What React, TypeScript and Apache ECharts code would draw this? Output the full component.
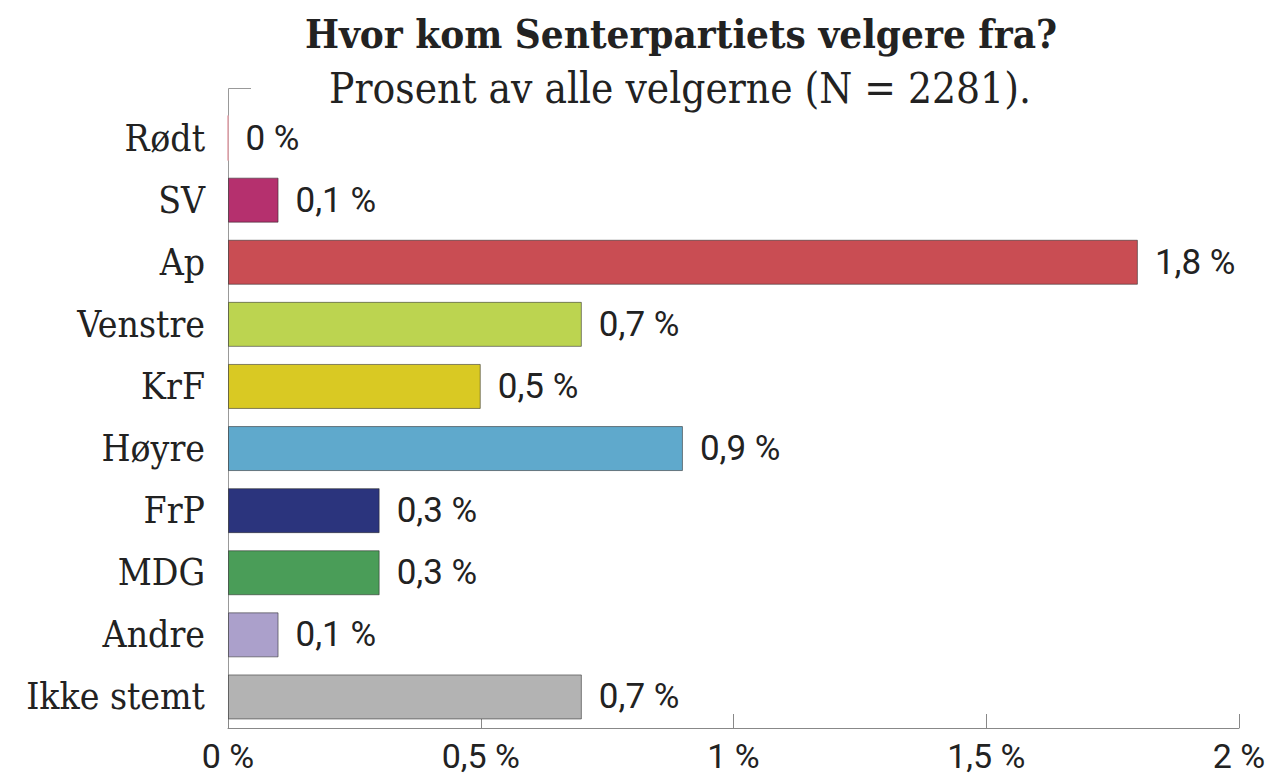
import React, { useEffect, useRef } from "react";
import * as echarts from "echarts";

const categories = ["Rødt", "SV", "Ap", "Venstre", "KrF", "Høyre", "FrP", "MDG", "Andre", "Ikke stemt"];
const values = [0, 0.1, 1.8, 0.7, 0.5, 0.9, 0.3, 0.3, 0.1, 0.7];
const colors = ["#e4a3ab", "#b5306e", "#c94d53", "#bcd450", "#d9c923", "#5fa9cc", "#2b347d", "#4a9d58", "#aba0cb", "#b3b3b3"];
const xTicks = [0, 0.5, 1, 1.5, 2];

const titleText = "Hvor kom Senterpartiets velgere fra?";
const subtitleText = "Prosent av alle velgerne (N = 2281).";

const slab = "'Roboto Slab', 'DejaVu Serif Condensed', 'DejaVu Serif', serif";
const sans = "Roboto, 'Noto Sans', sans-serif";

function fmt(v: number): string {
  if (v === 0) return "0 %";
  const s = Number.isInteger(v) ? String(v) : v.toFixed(1);
  return s.replace(".", ",") + " %";
}

export default function App() {
  const ref = useRef<HTMLDivElement>(null);
  useEffect(() => {
    if (!ref.current) return;
    const chart = echarts.init(ref.current, null, { renderer: "svg" });
    chart.setOption({
      animation: false,
      backgroundColor: "#ffffff",
      graphic: [
        {
          type: "text",
          x: 681,
          y: 33,
          style: {
            text: titleText,
            fontFamily: slab,
            fontWeight: "bold",
            fontSize: 40,
            fill: "#222222",
            textAlign: "center",
            textVerticalAlign: "middle",
          },
        },
        {
          type: "text",
          x: 680,
          y: 88,
          style: {
            text: subtitleText,
            fontFamily: slab,
            fontSize: 42,
            fill: "#222222",
            textAlign: "center",
            textVerticalAlign: "middle",
          },
        },
        {
          type: "polyline",
          shape: { points: [[251, 88.5], [228.5, 88.5], [228.5, 107]] },
          style: { stroke: "#999999", lineWidth: 1, fill: null },
        },
      ],
      grid: { left: 228, right: 42, top: 107, bottom: 49, containLabel: false },
      xAxis: {
        type: "value",
        min: xTicks[0],
        max: xTicks[xTicks.length - 1],
        interval: 0.5,
        splitLine: { show: false },
        axisLine: { show: true, lineStyle: { color: "#888888", width: 1 } },
        axisTick: { show: true, inside: true, length: 14, lineStyle: { color: "#888888" } },
        axisLabel: {
          margin: 11,
          fontFamily: sans,
          fontSize: 34,
          lineHeight: 34,
          color: "#222222",
          formatter: (v: number) => fmt(v),
        },
      },
      yAxis: {
        type: "category",
        data: categories,
        inverse: true,
        axisLine: { show: true, lineStyle: { color: "#999999", width: 1 } },
        axisTick: { show: false },
        axisLabel: {
          margin: 23,
          fontFamily: slab,
          fontSize: 37,
          color: "#222222",
        },
      },
      series: [
        {
          type: "bar",
          barWidth: 45,
          data: values.map((v, i) => ({
            value: v,
            itemStyle: {
              color: colors[i],
              borderColor: v === 0 ? colors[i] : "rgba(40,40,40,0.55)",
              borderWidth: 1,
            },
          })),
          label: {
            show: true,
            position: "right",
            distance: 17,
            fontFamily: sans,
            fontSize: 35,
            color: "#222222",
            formatter: (p: any) => fmt(p.value),
          },
        },
      ],
    });
    return () => chart.dispose();
  }, []);
  return (
    <div
      ref={ref}
      style={{ position: "fixed", left: 0, top: 0, width: 1281, height: 777 }}
    />
  );
}
